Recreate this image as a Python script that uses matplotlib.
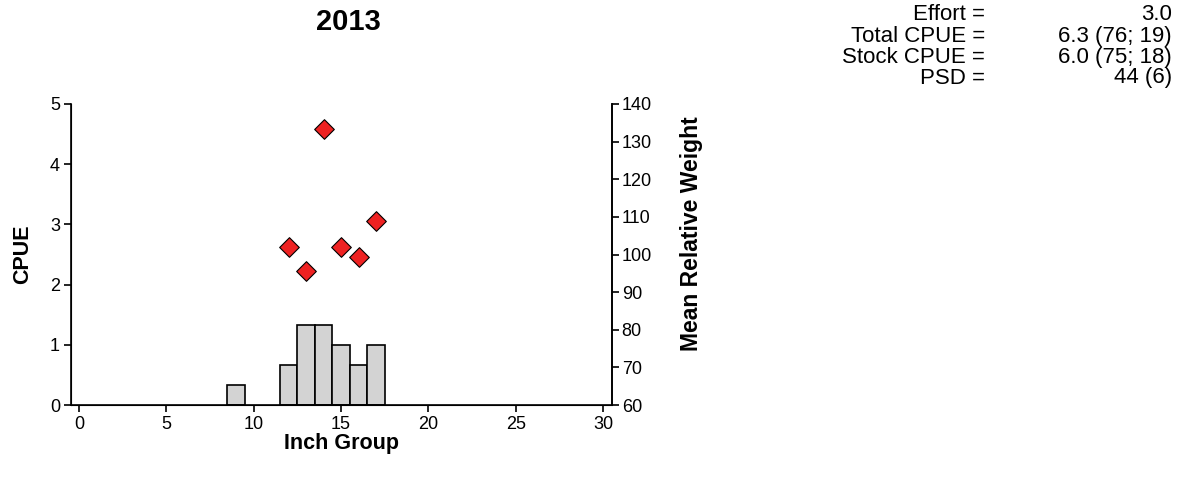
import matplotlib
matplotlib.use("Agg")
import matplotlib.pyplot as plt

plt.rcParams['font.family'] = ['Liberation Sans', 'DejaVu Sans']

# Data
inch_groups = [9, 12, 13, 14, 15, 16, 17]
cpue = [0.333, 0.667, 1.333, 1.333, 1.0, 0.667, 1.0]
wr_groups = [12, 13, 14, 15, 16, 17]
wr_values = [102.0, 95.6, 133.4, 102.0, 99.3, 108.9]
x_ticks = [0, 5, 10, 15, 20, 25, 30]
y_ticks = [0, 1, 2, 3, 4, 5]
wr_ticks = [60, 70, 80, 90, 100, 110, 120, 130, 140]
title = "2013"
stat_labels = ["Effort =", "Total CPUE =", "Stock CPUE =", "PSD ="]
stat_values = ["3.0", "6.3 (76; 19)", "6.0 (75; 18)", "44 (6)"]

W, H = 1187, 479
fig = plt.figure(figsize=(W / 100, H / 100), dpi=100)
ax = fig.add_axes([71 / W, 1 - 405 / H, (612 - 71) / W, (405 - 104) / H])

ax.bar(inch_groups, cpue, width=1.0, color='#d3d3d3', edgecolor='black', linewidth=1.2, zorder=2)
ax.set_xlim(-0.45, 30.5)
ax.set_ylim(0, 5)
ax.set_xticks(x_ticks)
ax.set_yticks(y_ticks)
ax.spines['top'].set_visible(False)
for s in ['left', 'bottom', 'right']:
    ax.spines[s].set_linewidth(1.2)
ax.tick_params(axis='both', direction='out', length=5, width=1.2, labelsize=13, pad=3)
ax.set_xlabel("Inch Group", fontsize=15.5, fontweight='bold', labelpad=0)
ax.set_ylabel("CPUE", fontsize=15.5, fontweight='bold', labelpad=12)

ax2 = ax.twinx()
ax2.set_ylim(60, 140)
ax2.set_yticks(wr_ticks)
ax2.spines['top'].set_visible(False)
ax2.spines['right'].set_linewidth(1.2)
ax2.tick_params(axis='y', direction='out', length=5, width=1.2, labelsize=13, pad=2)
ax2.scatter(wr_groups, wr_values, marker='D', s=100, color='#ee2222', edgecolor='black',
            linewidth=0.8, zorder=3)
ax2.set_ylabel("Mean Relative Weight", fontsize=16.5, fontweight='bold', labelpad=20, y=0.57)

fig.text(348 / W, 1 - 22 / H, title, ha='center', va='center', fontsize=21, fontweight='bold')

line_y = [15, 36.5, 57.5, 78]
for lab, val, yy in zip(stat_labels, stat_values, line_y):
    fig.text(985 / W, 1 - yy / H, lab, ha='right', va='center', fontsize=16)
    fig.text(1172 / W, 1 - yy / H, val, ha='right', va='center', fontsize=16)

fig.savefig("out.png", dpi=100)
